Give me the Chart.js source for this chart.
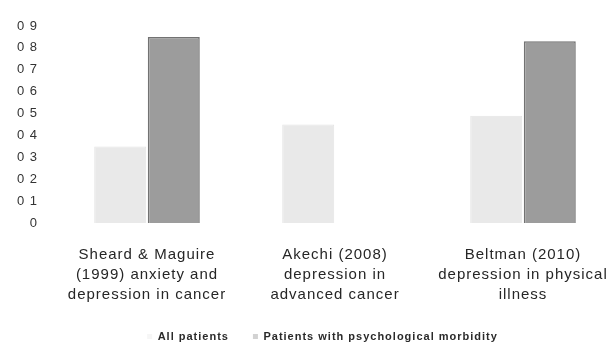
<!DOCTYPE html>
<html>
<head>
<meta charset="utf-8">
<script src="https://cdn.jsdelivr.net/npm/chart.js@4/dist/chart.umd.min.js"></script>
<style>
  html, body { margin: 0; padding: 0; background: #fff; overflow: hidden; }
  #wrap { width: 624px; height: 342px; position: relative; }
</style>
</head>
<body>
<div id="wrap"><canvas id="c" width="624" height="342"></canvas></div>
<script>
// Study labels, one entry per line of the wrapped category text
const categories = [
  ['Sheard & Maguire', '(1999) anxiety and', 'depression in cancer'],
  ['Akechi (2008)', 'depression in', 'advanced cancer'],
  ['Beltman (2010)', 'depression in physical', 'illness']
];
const seriesNames = ['All patients', 'Patients with psychological morbidity'];
const allPatients = [0.35, 0.45, 0.49];
const withMorbidity = [0.85, null, 0.83];
const yTickLabels = ['0', '0 1', '0 2', '0 3', '0 4', '0 5', '0 6', '0 7', '0 8', '0 9'];

const FONT = "'Liberation Sans', Arial, sans-serif";

// wider letter spacing for all canvas text
const spacing = {
  id: 'spacing',
  beforeUpdate(chart) { chart.ctx.letterSpacing = '1px'; },
  beforeLayout(chart) { chart.ctx.letterSpacing = '1px'; },
  beforeDraw(chart) { chart.ctx.letterSpacing = '1px'; }
};

// nudge the legend row a little to the right of the canvas centre
const legendShift = {
  id: 'legendShift',
  afterLayout(chart) {
    if (chart.legend) {
      chart.legend.left += 14;
      chart.legend.right += 14;
    }
  }
};

new Chart(document.getElementById('c'), {
  type: 'bar',
  data: {
    labels: categories,
    datasets: [
      {
        label: seriesNames[0],
        data: allPatients,
        backgroundColor: '#e9e9e9',
        borderColor: '#e4e4e4',
        borderWidth: 1,
        barPercentage: 0.97,
        categoryPercentage: 0.57
      },
      {
        label: seriesNames[1],
        data: withMorbidity,
        backgroundColor: '#9c9c9c',
        borderColor: '#727272',
        borderWidth: 1.5,
        barPercentage: 0.97,
        categoryPercentage: 0.57
      }
    ]
  },
  options: {
    responsive: false,
    animation: false,
    layout: { padding: { top: 26, right: 7, left: 0, bottom: -10 } },
    plugins: {
      tooltip: { enabled: false },
      legend: {
        position: 'bottom',
        labels: {
          color: '#2a2a2a',
          font: { family: FONT, size: 11, weight: 'bold' },
          boxWidth: 5,
          boxHeight: 5,
          padding: 24,
          generateLabels(chart) {
            const marks = ['#f6f6f6', '#d2d2d2'];
            return seriesNames.map((name, i) => ({
              text: name,
              fillStyle: marks[i],
              strokeStyle: marks[i],
              lineWidth: 0,
              datasetIndex: i,
              fontColor: '#2a2a2a'
            }));
          }
        }
      }
    },
    scales: {
      x: {
        grid: { display: false, drawTicks: false },
        border: { display: false },
        ticks: {
          color: '#262626',
          font: { family: FONT, size: 15, lineHeight: 1.33 },
          padding: 22,
          maxRotation: 0,
          autoSkip: false
        },
        afterFit(scale) {
          scale.height = 84;
          scale.paddingLeft = 0;
          scale.paddingRight = 0;
        }
      },
      y: {
        min: 0,
        max: 0.9,
        grid: { display: false, drawTicks: false },
        border: { display: false },
        ticks: {
          stepSize: 0.1,
          color: '#333',
          font: { family: FONT, size: 13 },
          padding: 15,
          callback: (v, i) => yTickLabels[i]
        },
        afterFit(scale) { scale.width = 53; }
      }
    }
  },
  plugins: [spacing, legendShift]
});
</script>
</body>
</html>
